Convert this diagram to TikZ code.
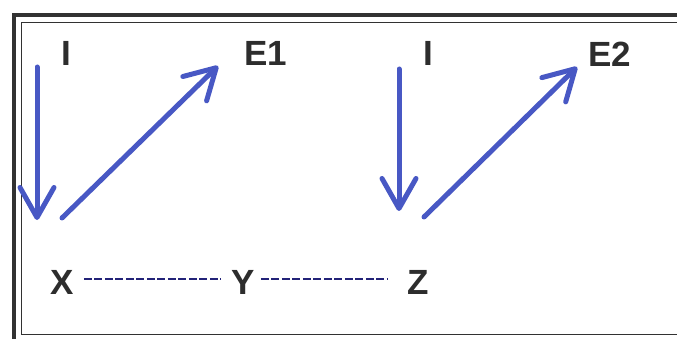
\documentclass[tikz,border=0pt]{standalone}
\usepackage{fontspec}
\setmainfont{Liberation Sans}
\usetikzlibrary{arrows.meta}
\definecolor{arrblue}{RGB}{72,88,196}
\definecolor{navy}{RGB}{35,35,120}
\definecolor{txt}{RGB}{45,45,45}
\definecolor{frame}{RGB}{50,50,50}
\tikzset{
  lbl/.style={font=\fontsize{35}{40}\selectfont\bfseries, text=txt, inner sep=0pt},
  bigarrow/.style={draw=arrblue, line width=5pt, line cap=round,
    -{Straight Barb[length=30pt,width=34pt,line width=5pt,round]}},
  dashline/.style={draw=navy, line width=2.6pt, dash pattern=on 8pt off 2.5pt}
}
\begin{document}
\begin{tikzpicture}[x=1pt,y=-1pt]
\useasboundingbox (0,0) rectangle (677,339);
\begin{scope}
\clip (0,0) rectangle (677,339);
\draw[frame, line width=4pt] (690,15) -- (14,15) -- (14,341) -- (690,341);
\draw[frame, line width=1.5pt] (690,22.5) -- (21.5,22.5) -- (21.5,334.5) -- (690,334.5);
\end{scope}
% labels
\node[lbl] (I1) at (66,53) {I};
\node[lbl] (E1) at (266,53) {E1};
\node[lbl] (I2) at (428,53) {I};
\node[lbl] (E2) at (610,54) {E2};
\node[lbl] (X) at (62,282) {X};
\node[lbl] (Y) at (243,282) {Y};
\node[lbl] (Z) at (418,282) {Z};
% arrow endpoints
\coordinate (a1s) at (37,67);
\coordinate (a1e) at (37,220);
\coordinate (a2s) at (62,218);
\coordinate (a2e) at (218,66);
\coordinate (a3s) at (399,69);
\coordinate (a3e) at (399,211);
\coordinate (a4s) at (424,217);
\coordinate (a4e) at (577,67);
\draw[bigarrow] (a1s) -- (a1e);
\draw[bigarrow] (a2s) -- (a2e);
\draw[bigarrow] (a3s) -- (a3e);
\draw[bigarrow] (a4s) -- (a4e);
% dashed connectors
\draw[dashline] ([xshift=10pt,yshift=3pt]X.east) -- ([xshift=-10pt,yshift=3pt]Y.west);
\draw[dashline] ([xshift=6pt,yshift=3pt]Y.east) -- ([xshift=-20pt,yshift=3pt]Z.west);
\end{tikzpicture}
\end{document}
